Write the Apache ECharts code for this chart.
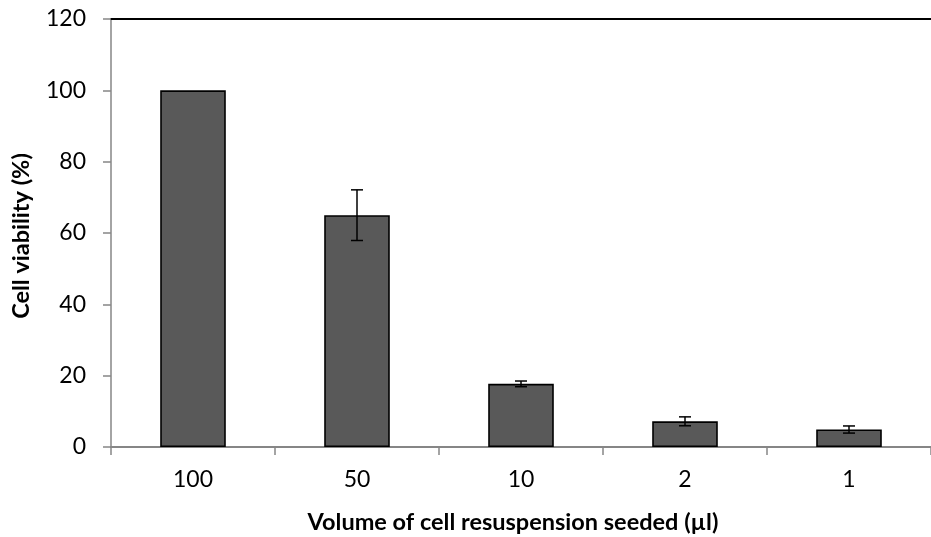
<!DOCTYPE html>
<html>
<head>
<meta charset="utf-8">
<script src="https://cdn.jsdelivr.net/npm/echarts@6/dist/echarts.min.js"></script>
<style>
  html, body { margin: 0; padding: 0; background: #fff; }
  #chart { width: 931px; height: 537px; }
</style>
</head>
<body>
<div id="chart"></div>
<script>
// Cell viability by seeded volume, with standard-deviation error bars
const categories = ['100', '50', '10', '2', '1'];
const viability = [100, 65, 17.7, 7.2, 4.9];
const errors = [0, 7.1, 0.8, 1.25, 1.0];
const yTicks = { min: 0, max: 120, interval: 20 };

const FONT = 'Lato, "Open Sans", sans-serif';
const chart = echarts.init(document.getElementById('chart'), null, { renderer: 'canvas' });

const errorData = categories.map((c, i) => [i, viability[i] - errors[i], viability[i] + errors[i]]);

chart.setOption({
  animation: false,
  grid: { left: 111, right: -7, top: 19, bottom: 90, containLabel: false },
  xAxis: [
    {
      type: 'category',
      data: categories,
      axisLine: { lineStyle: { color: '#868686', width: 2 } },
      axisTick: { show: true, alignWithLabel: false, length: 8, lineStyle: { color: '#868686', width: 1.5 } },
      axisLabel: { color: '#000', fontSize: 23, fontFamily: FONT, margin: 21 },
      splitLine: { show: false }
    },
    {
      type: 'category',
      data: categories,
      position: 'top',
      axisLine: { lineStyle: { color: '#000', width: 2 } },
      axisTick: { show: false },
      axisLabel: { show: false }
    }
  ],
  yAxis: {
    type: 'value',
    min: yTicks.min,
    max: yTicks.max,
    interval: yTicks.interval,
    axisLine: { show: true, lineStyle: { color: '#868686', width: 1.5 } },
    axisTick: { show: true, length: 8, lineStyle: { color: '#868686', width: 1.5 } },
    axisLabel: { color: '#000', fontSize: 23, fontFamily: FONT, margin: 25 },
    splitLine: { show: false }
  },
  graphic: [
    {
      type: 'text',
      x: 513, y: 522,
      style: {
        text: 'Volume of cell resuspension seeded (µl)',
        fill: '#000', font: 'bold 23.5px ' + FONT, textAlign: 'center', textVerticalAlign: 'middle'
      }
    },
    {
      type: 'text',
      x: 21, y: 236, rotation: Math.PI / 2,
      style: {
        text: 'Cell viability (%)',
        fill: '#000', font: 'bold 23.5px ' + FONT, textAlign: 'center', textVerticalAlign: 'middle'
      }
    }
  ],
  series: [
    {
      type: 'bar',
      data: viability,
      barWidth: '40%',
      itemStyle: { color: '#595959', borderColor: '#000', borderWidth: 1.6 }
    },
    {
      type: 'custom',
      data: errorData,
      z: 10,
      renderItem: function (params, api) {
        const x = api.value(0);
        if (api.value(2) - api.value(1) <= 0) return null;
        const lo = api.coord([x, api.value(1)]);
        const hi = api.coord([x, api.value(2)]);
        const half = 6;
        const style = { stroke: '#000', lineWidth: 1.5 };
        return {
          type: 'group',
          children: [
            { type: 'line', shape: { x1: hi[0], y1: hi[1], x2: lo[0], y2: lo[1] }, style },
            { type: 'line', shape: { x1: hi[0] - half, y1: hi[1], x2: hi[0] + half, y2: hi[1] }, style },
            { type: 'line', shape: { x1: lo[0] - half, y1: lo[1], x2: lo[0] + half, y2: lo[1] }, style }
          ]
        };
      }
    }
  ]
});
</script>
</body>
</html>
